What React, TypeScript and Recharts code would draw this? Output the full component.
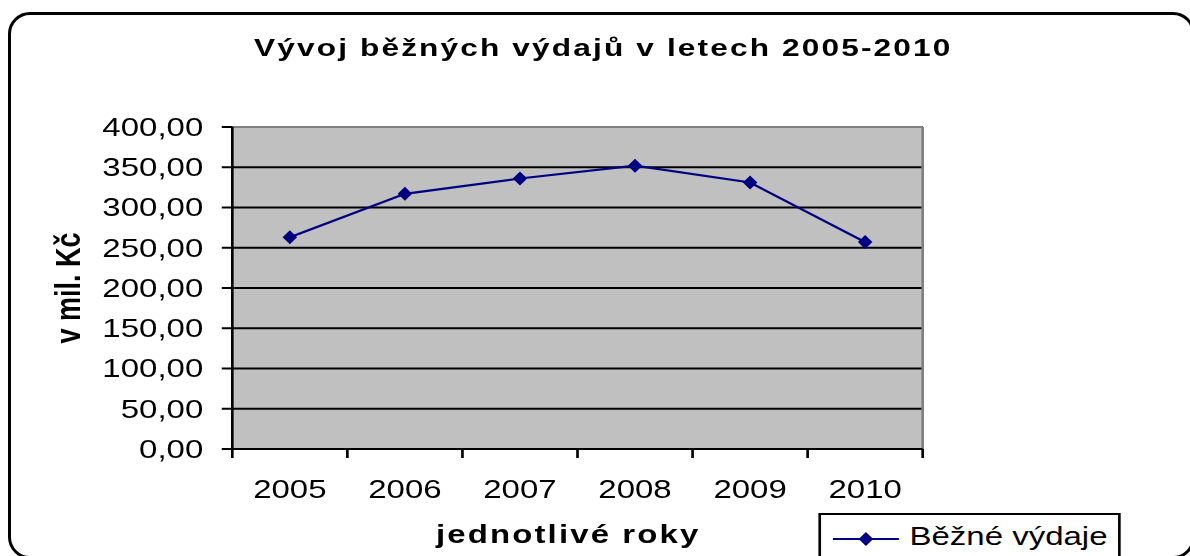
import React from "react";
import {
  LineChart,
  Line,
  XAxis,
  YAxis,
  CartesianGrid,
  ReferenceLine,
} from "recharts";

// data (mil. Kč)
const YEARS = ["2005", "2006", "2007", "2008", "2009", "2010"];
const VALUES = [263, 317, 336, 352, 331, 257];
const Y_TICKS = [0, 50, 100, 150, 200, 250, 300, 350, 400];
const SERIES_NAME = "Běžné výdaje";
const TITLE = "Vývoj běžných výdajů v letech 2005-2010";

const NAVY = "#000080";
const PLOT_BG = "#C0C0C0";
const FONT = "'Liberation Sans', Arial, sans-serif";

// the original is stretched horizontally, so draw narrow and scale up
const S = 1.32;
const W = Math.round(1190 / S);
const H = 556;

const data = YEARS.map((year, i) => ({ x: i + 0.5, year, value: VALUES[i] }));
const xTicks = Array.from({ length: YEARS.length * 2 + 1 }, (_, i) => i / 2);

const fmt = (v: number) => v.toFixed(2).replace(".", ",");

const Diamond = (props: any) => {
  const { cx, cy, index } = props;
  if (cx == null || cy == null) return null;
  return (
    <polygon
      key={index}
      points={`${cx},${cy - 7} ${cx + 5.5},${cy} ${cx},${cy + 7} ${cx - 5.5},${cy}`}
      fill={NAVY}
    />
  );
};

const XTick = (props: any) => {
  const { x, y, payload } = props;
  const v = payload.value as number;
  if (Number.isInteger(v)) {
    return <line x1={x} y1={y} x2={x} y2={y + 9} stroke="#000" strokeWidth={2} />;
  }
  return (
    <text x={x} y={y + 49} textAnchor="middle" fontSize={25} fill="#000" fontFamily={FONT}>
      {YEARS[Math.floor(v)]}
    </text>
  );
};

export default function App() {
  return (
    <div
      style={{
        position: "absolute",
        left: 0,
        top: 0,
        width: 1190,
        height: 556,
        overflow: "hidden",
        background: "#fff",
        fontFamily: FONT,
      }}
    >
      {/* rounded frame, partly cut off right and bottom */}
      <div
        style={{
          position: "absolute",
          left: 8,
          top: 12,
          width: 1187,
          height: 547,
          border: "3px solid #000",
          borderRadius: 22,
          boxSizing: "border-box",
        }}
      />
      <div
        style={{
          position: "absolute",
          left: 0,
          top: 0,
          width: W,
          height: H,
          transform: `scaleX(${S})`,
          transformOrigin: "0 0",
        }}
      >
        <svg width={W} height={80} style={{ position: "absolute", left: 0, top: 0 }}>
          <text
            x={457}
            y={56}
            textAnchor="middle"
            fontSize={24}
            fontWeight="bold"
            letterSpacing={1.6}
            fontFamily={FONT}
          >
            {TITLE}
          </text>
        </svg>

        <LineChart
          width={W}
          height={H}
          data={data}
          margin={{ top: 127, right: 203, left: 0, bottom: 0 }}
          style={{ position: "absolute", left: 0, top: 0 }}
        >
          <CartesianGrid vertical={false} stroke="#000" strokeWidth={2} fill={PLOT_BG} />
          <ReferenceLine y={400} stroke="#808080" strokeWidth={2} />
          <ReferenceLine x={6} stroke="#808080" strokeWidth={2} />
          <XAxis
            type="number"
            dataKey="x"
            domain={[0, 6]}
            ticks={xTicks}
            interval={0}
            height={107}
            tickSize={0}
            tickMargin={0}
            tickLine={false}
            axisLine={{ stroke: "#000", strokeWidth: 2 }}
            tick={<XTick />}
            label={{
              value: "jednotlivé roky",
              position: "insideBottom",
              offset: 13,
              dx: -7,
              style: {
                fontSize: 25,
                fontWeight: "bold",
                fill: "#000",
                fontFamily: FONT,
                letterSpacing: 1.6,
              },
            }}
          />
          <YAxis
            domain={[0, 400]}
            ticks={Y_TICKS}
            interval={0}
            width={176}
            tickSize={8}
            tickMargin={14}
            tickFormatter={fmt}
            tick={{ fontSize: 25, fill: "#000", fontFamily: FONT }}
            tickLine={{ stroke: "#000", strokeWidth: 2 }}
            axisLine={{ stroke: "#000", strokeWidth: 2 }}
            label={{
              value: "v mil. Kč",
              angle: -90,
              position: "insideLeft",
              offset: 51,
              style: {
                fontSize: 27,
                fontWeight: "bold",
                fill: "#000",
                fontFamily: FONT,
                textAnchor: "middle",
              },
            }}
          />
          <Line
            type="linear"
            dataKey="value"
            name={SERIES_NAME}
            stroke={NAVY}
            strokeWidth={2.2}
            dot={<Diamond />}
            activeDot={false}
            isAnimationActive={false}
          />
        </LineChart>

        {/* legend box */}
        <svg width={230} height={50} style={{ position: "absolute", left: 620, top: 513 }}>
          <rect x={1} y={1} width={227} height={48} fill="#fff" stroke="#000" strokeWidth={2} />
          <line x1={11} y1={26} x2={61} y2={26} stroke={NAVY} strokeWidth={2} />
          <Diamond cx={36} cy={26} index={0} />
          <text x={69} y={32} fontSize={25} fill="#000" fontFamily={FONT}>
            {SERIES_NAME}
          </text>
        </svg>
      </div>
    </div>
  );
}
